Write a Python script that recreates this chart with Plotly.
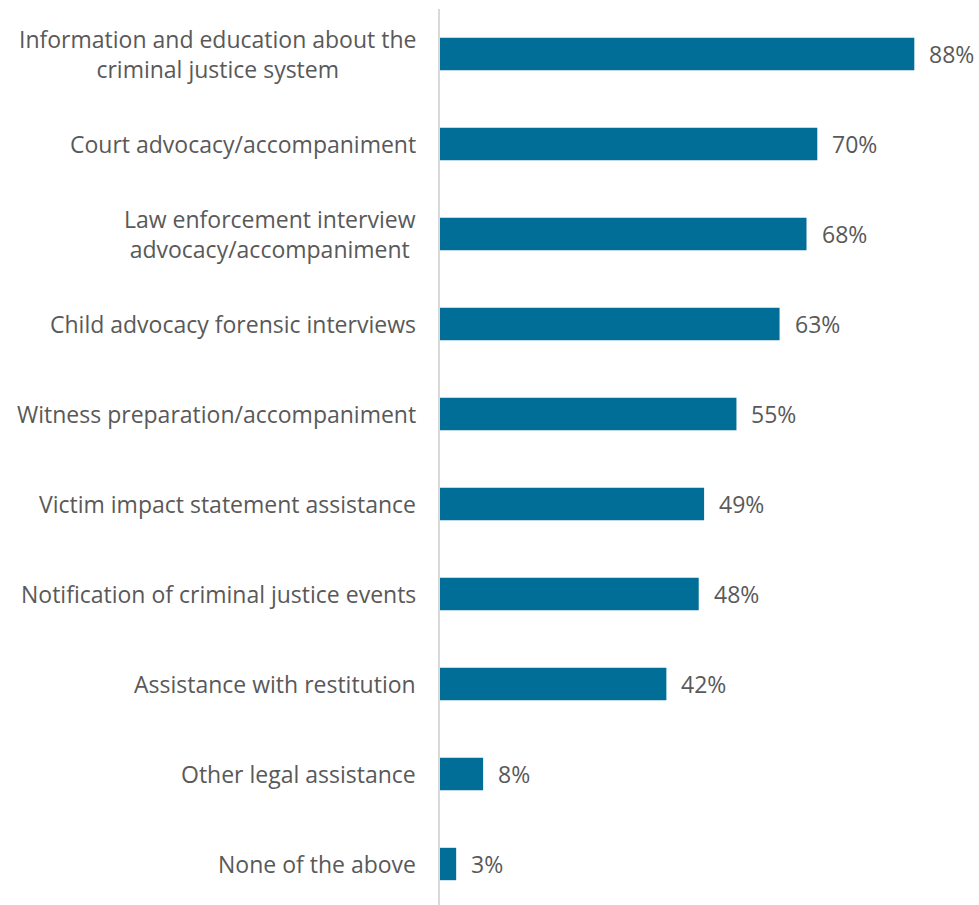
import plotly.graph_objects as go

# Criminal justice services offered (share of respondents)
categories = [
    "Information and education about the<br>criminal justice system",
    "Court advocacy/accompaniment",
    "Law enforcement interview<br>advocacy/accompaniment",
    "Child advocacy forensic interviews",
    "Witness preparation/accompaniment",
    "Victim impact statement assistance",
    "Notification of criminal justice events",
    "Assistance with restitution",
    "Other legal assistance",
    "None of the above",
]
values = [88, 70, 68, 63, 55, 49, 48, 42, 8, 3]

BAR_COLOR = "#006E96"
TEXT_COLOR = "#595959"
FONT = "Open Sans"
FONT_SIZE = 23

fig = go.Figure(
    go.Bar(
        x=values,
        y=categories,
        orientation="h",
        width=0.36,
        marker=dict(color=BAR_COLOR, line=dict(width=0)),
        hoverinfo="skip",
    )
)

# category labels, centred line by line, right edge next to the axis
for cat in categories:
    fig.add_annotation(
        x=0, xref="paper", y=cat, yref="y",
        text=cat, showarrow=False,
        xanchor="right", yanchor="middle", align="center",
        xshift=-22,
        font=dict(family=FONT, size=FONT_SIZE, color=TEXT_COLOR),
    )

# value labels at the end of each bar
for cat, v in zip(categories, values):
    fig.add_annotation(
        x=v, xref="x", y=cat, yref="y",
        text=f"{v}%", showarrow=False,
        xanchor="left", yanchor="middle",
        xshift=13,
        font=dict(family=FONT, size=FONT_SIZE, color=TEXT_COLOR),
    )

PLOT_TOP = 9
HEIGHT = 905
ROW_PX = 90
rows_visible = (HEIGHT - PLOT_TOP) / ROW_PX

fig.update_layout(
    width=979,
    height=HEIGHT,
    margin=dict(l=440, r=0, t=PLOT_TOP, b=0),
    paper_bgcolor="white",
    plot_bgcolor="white",
    showlegend=False,
    xaxis=dict(
        range=[0, 100],
        showgrid=False,
        zeroline=False,
        showticklabels=False,
        ticks="",
        fixedrange=True,
    ),
    yaxis=dict(
        range=[-0.5 + rows_visible, -0.5],
        showticklabels=False,
        showgrid=False,
        zeroline=False,
        ticks="",
        showline=True,
        linecolor="#D9D9D9",
        linewidth=2,
        fixedrange=True,
    ),
)

fig.write_html("out.html")
